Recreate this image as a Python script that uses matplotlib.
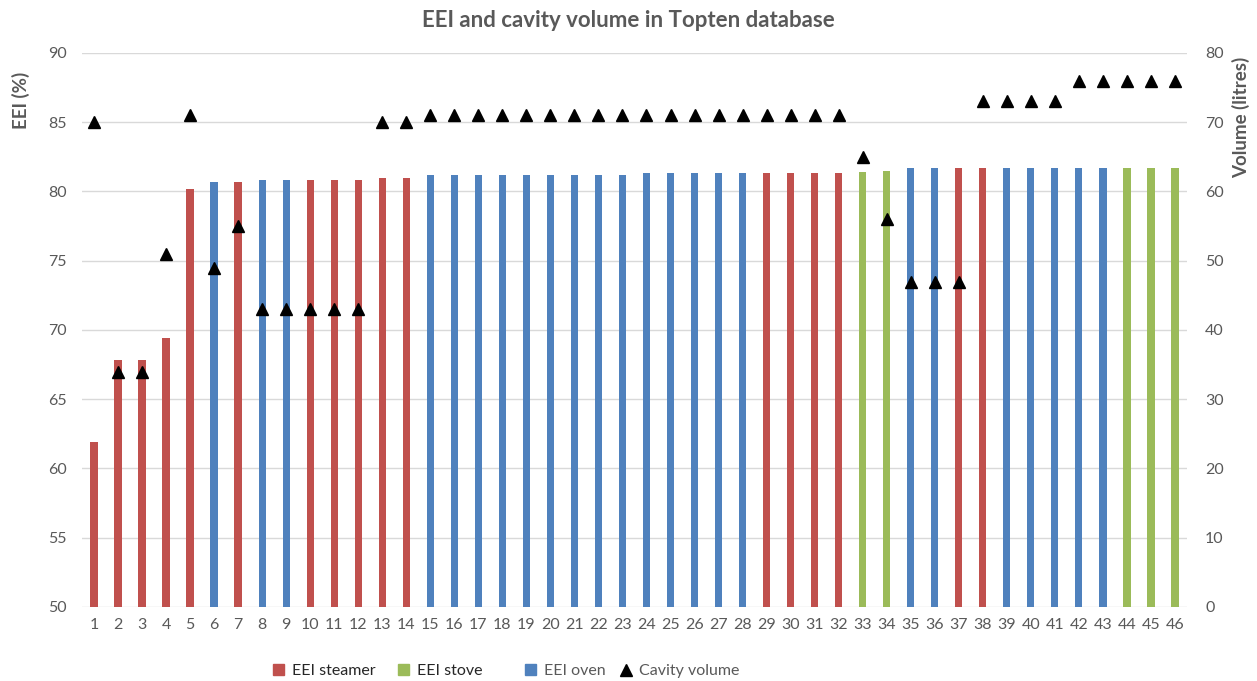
import matplotlib.pyplot as plt
from matplotlib.patches import Patch
from matplotlib.lines import Line2D

plt.rcParams['font.family'] = ['Lato', 'DejaVu Sans']

models = list(range(1, 47))
eei = [61.9, 67.8, 67.8, 69.4, 80.2, 80.7, 80.7, 80.8, 80.8, 80.8,
       80.8, 80.8, 81.0, 81.0, 81.2, 81.2, 81.2, 81.2, 81.2, 81.2,
       81.2, 81.2, 81.2, 81.3, 81.3, 81.3, 81.3, 81.3, 81.3, 81.3,
       81.3, 81.3, 81.4, 81.5, 81.7, 81.7, 81.7, 81.7, 81.7, 81.7,
       81.7, 81.7, 81.7, 81.7, 81.7, 81.7]
kind = ['steamer'] * 5 + ['oven', 'steamer', 'oven', 'oven'] + ['steamer'] * 5 \
    + ['oven'] * 14 + ['steamer'] * 4 + ['stove'] * 2 + ['oven', 'oven'] \
    + ['steamer', 'steamer'] + ['oven'] * 5 + ['stove'] * 3
volume = [70, 34, 34, 51, 71, 49, 55, 43, 43, 43,
          43, 43, 70, 70, 71, 71, 71, 71, 71, 71,
          71, 71, 71, 71, 71, 71, 71, 71, 71, 71,
          71, 71, 65, 56, 47, 47, 47, 73, 73, 73,
          73, 76, 76, 76, 76, 76]

colors = {'steamer': '#C0504D', 'stove': '#9BBB59', 'oven': '#4F81BD'}
grey = '#595959'

fig = plt.figure(figsize=(12.57, 6.81), dpi=100)
ax = fig.add_axes([0.0652, 0.1087, 0.8791, 0.8135])
ax.bar(models, [v - 50 for v in eei], bottom=50, width=0.3,
       color=[colors[k] for k in kind], zorder=2)
ax.set_ylim(50, 90)
ax.set_xlim(0.5, 46.5)
ax.set_yticks(range(50, 91, 5))
ax.set_xticks(models)
ax.grid(axis='y', color='#D9D9D9', linewidth=1, zorder=0)
for s in ax.spines.values():
    s.set_visible(False)
ax.tick_params(axis='x', length=0, colors=grey, labelsize=11.5, pad=8)
ax.tick_params(axis='y', length=0, colors=grey, labelsize=11.5, pad=11)

ax2 = ax.twinx()
ax2.plot(models, volume, linestyle='none', marker='^', color='black',
         markersize=8, zorder=3)
ax2.set_ylim(0, 80)
ax2.set_yticks(range(0, 81, 10))
for s in ax2.spines.values():
    s.set_visible(False)
ax2.tick_params(axis='y', length=0, colors=grey, labelsize=11.5, pad=13)

fig.text(0.5, 0.970, 'EEI and cavity volume in Topten database', ha='center',
         va='center', fontsize=16, fontweight='bold', color=grey)
fig.text(0.017, 0.853, 'EEI (%)', rotation=90, ha='center', va='center',
         fontsize=13.5, fontweight='bold', color=grey)
fig.text(0.987, 0.827, 'Volume (litres)', rotation=90, ha='center', va='center',
         fontsize=13.5, fontweight='bold', color=grey)

# legend entries are spaced unevenly in the original, so place each one
entries = [(Patch(color=colors['steamer'], label='EEI steamer'), 273, '#262626'),
           (Patch(color=colors['stove'], label='EEI stove'), 398, '#262626'),
           (Patch(color=colors['oven'], label='EEI oven'), 525, grey),
           (Line2D([], [], linestyle='none', marker='^', color='black',
                   markersize=8, label='Cavity volume'), 620, grey)]
for handle, xpix, tcol in entries:
    leg = fig.legend(handles=[handle], loc='center left',
                     bbox_to_anchor=(xpix / 1257, 1 - 671 / 681),
                     frameon=False, fontsize=11.5, handlelength=0.7,
                     handleheight=0.7, handletextpad=0.5,
                     borderpad=0, borderaxespad=0)
    for t in leg.get_texts():
        t.set_color(tcol)

fig.savefig('out.png', dpi=100)
